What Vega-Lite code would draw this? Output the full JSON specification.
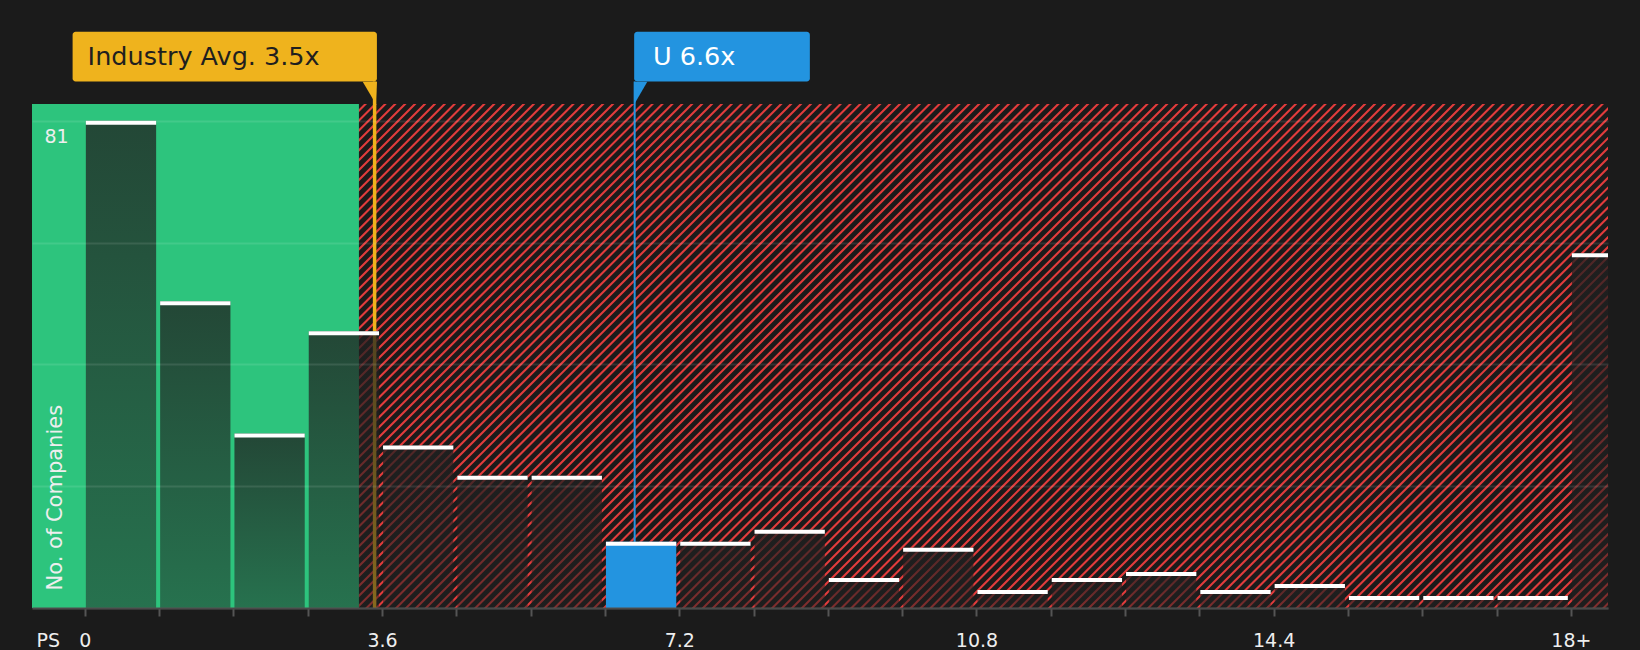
{
  "$schema": "https://vega.github.io/schema/vega-lite/v6.json",
  "width": 1576,
  "height": 504,
  "autosize": {"type": "none"},
  "padding": {"left": 32, "top": 104, "right": 32, "bottom": 42},
  "background": "#1b1b1b",
  "config": {"view": {"stroke": null}, "font": "DejaVu Sans"},
  "datasets": {
    "bins": [
      {"start": 0, "end": 0.9, "count": 81},
      {"start": 0.9, "end": 1.8, "count": 51},
      {"start": 1.8, "end": 2.7, "count": 29},
      {"start": 2.7, "end": 3.6, "count": 46},
      {"start": 3.6, "end": 4.5, "count": 27},
      {"start": 4.5, "end": 5.4, "count": 22},
      {"start": 5.4, "end": 6.3, "count": 22},
      {"start": 6.3, "end": 7.2, "count": 11},
      {"start": 7.2, "end": 8.1, "count": 11},
      {"start": 8.1, "end": 9, "count": 13},
      {"start": 9, "end": 9.9, "count": 5},
      {"start": 9.9, "end": 10.8, "count": 10},
      {"start": 10.8, "end": 11.7, "count": 3},
      {"start": 11.7, "end": 12.6, "count": 5},
      {"start": 12.6, "end": 13.5, "count": 6},
      {"start": 13.5, "end": 14.4, "count": 3},
      {"start": 14.4, "end": 15.3, "count": 4},
      {"start": 15.3, "end": 16.2, "count": 2},
      {"start": 16.2, "end": 17.1, "count": 2},
      {"start": 17.1, "end": 18, "count": 2},
      {"start": 18, "end": 18.9, "count": 59}
    ],
    "annotations": [
      {"label": "Industry Avg. 3.5x", "value": 3.51},
      {"label": "U 6.6x", "value": 6.66}
    ]
  },
  "layer": [
    {
      "data": {"values": [{}]},
      "mark": {"type": "rule", "clip": true, "stroke": "#e23c3c", "strokeWidth": 1800, "strokeDash": [2.1, 4.9], "strokeCap": "butt"},
      "encoding": {
        "x": {
          "datum": 1.197, "type": "quantitative",
          "scale": {"domain": [-0.64, 18.45], "nice": false, "zero": false},
          "axis": {
            "values": [0, 0.9, 1.8, 2.7, 3.6, 4.5, 5.4, 6.3, 7.2, 8.1, 9, 9.9, 10.8, 11.7, 12.6, 13.5, 14.4, 15.3, 16.2, 17.1, 18],
            "labelExpr": "datum.value == 18 ? '18+' : ((datum.value == 0 || datum.value == 3.6 || datum.value == 7.2 || datum.value == 10.8 || datum.value == 14.4) ? '' + datum.value : '')",
            "title": "PS", "titleX": 4, "titleY": 23.2, "titleAlign": "left", "titleBaseline": "top", "titleAnchor": "start",
            "titleFontSize": 19, "titleFontWeight": "normal", "titleColor": "#eeeeee",
            "labelFontSize": 19, "labelColor": "#eeeeee", "labelPadding": 15.3, "labelOverlap": false, "labelFlush": false,
            "tickSize": 8, "tickColor": "#555555", "tickWidth": 2,
            "domainColor": "#4a4a4a", "domainWidth": 2, "grid": false, "zindex": 1
          }
        },
        "x2": {"datum": 16.615},
        "y": {
          "datum": 147.64, "type": "quantitative",
          "scale": {"domain": [0, 83.8], "nice": false, "zero": false},
          "axis": {
            "values": [0, 20.25, 40.5, 60.75, 81],
            "labelExpr": "datum.value == 81 ? '81' : ''",
            "grid": true, "gridColor": "#ffffff", "gridOpacity": 0.1, "gridWidth": 2,
            "domain": false, "ticks": false, "tickSize": 0,
            "labelAlign": "left", "labelBaseline": "top", "labelPadding": -12, "labelOffset": 6.3,
            "labelFontSize": 19, "labelColor": "#eeeeee",
            "title": "No. of Companies", "titleX": 23, "titleY": 486, "titleAngle": 270, "titleAlign": "left", "titleBaseline": "middle",
            "titleFontSize": 21, "titleFontWeight": "normal", "titleColor": "#eeeeee", "zindex": 1
          }
        },
        "y2": {"datum": -63.84}
      }
    },
    {
      "data": {"values": [{}]},
      "mark": {"type": "rect", "fill": "#2dc47d"},
      "encoding": {
        "x": {"datum": -0.64, "type": "quantitative"},
        "x2": {"datum": 3.32},
        "y": {"datum": 0, "type": "quantitative"},
        "y2": {"datum": 83.8}
      }
    },
    {
      "data": {"name": "annotations"},
      "transform": [{"filter": "datum.label == 'Industry Avg. 3.5x'"}],
      "mark": {"type": "rule", "stroke": "#efb31d", "strokeWidth": 3.5},
      "encoding": {
        "x": {"field": "value", "type": "quantitative", "title": "PS"},
        "y": {"datum": 0, "type": "quantitative"},
        "y2": {"datum": 87.53}
      }
    },
    {
      "data": {"name": "annotations"},
      "transform": [{"filter": "datum.label == 'U 6.6x'"}],
      "mark": {"type": "rule", "stroke": "#2394e0", "strokeWidth": 2},
      "encoding": {
        "x": {"field": "value", "type": "quantitative", "title": "PS"},
        "y": {"datum": 0, "type": "quantitative"},
        "y2": {"datum": 87.53}
      }
    },
    {
      "data": {"name": "bins"},
      "mark": {
        "type": "rect", "clip": true, "xOffset": 1, "x2Offset": -3,
        "fill": {"gradient": "linear", "x1": 0, "y1": 0, "x2": 0, "y2": 1,
          "stops": [{"offset": 0, "color": "rgba(32,32,32,0.76)"}, {"offset": 1, "color": "rgba(32,32,32,0.5)"}]}
      },
      "encoding": {
        "x": {"field": "start", "type": "quantitative", "title": "PS"},
        "x2": {"field": "end"},
        "y": {"field": "count", "type": "quantitative", "title": "No. of Companies"},
        "y2": {"datum": 0}
      }
    },
    {
      "data": {"name": "bins"},
      "transform": [{"filter": "datum.start <= 6.66 && datum.end > 6.66"}],
      "mark": {"type": "rect", "clip": true, "xOffset": 1, "x2Offset": -3, "fill": "#2394e0"},
      "encoding": {
        "x": {"field": "start", "type": "quantitative", "title": "PS"},
        "x2": {"field": "end"},
        "y": {"field": "count", "type": "quantitative", "title": "No. of Companies"},
        "y2": {"datum": 0}
      }
    },
    {
      "data": {"name": "bins"},
      "mark": {"type": "rule", "clip": true, "stroke": "#ffffff", "strokeWidth": 4, "yOffset": 2, "xOffset": 1, "x2Offset": -3},
      "encoding": {
        "x": {"field": "start", "type": "quantitative", "title": "PS"},
        "x2": {"field": "end"},
        "y": {"field": "count", "type": "quantitative", "title": "No. of Companies"}
      }
    },
    {
      "data": {"name": "annotations"},
      "transform": [{"filter": "datum.label == 'Industry Avg. 3.5x'"}],
      "mark": {"type": "rect", "fill": "#efb31d", "cornerRadius": 3, "xOffset": -302, "x2Offset": 2.3},
      "encoding": {
        "x": {"field": "value", "type": "quantitative", "title": "PS"},
        "x2": {"field": "value"},
        "y": {"datum": 95.8, "type": "quantitative"},
        "y2": {"datum": 87.53}
      }
    },
    {
      "data": {"name": "annotations"},
      "transform": [{"filter": "datum.label == 'Industry Avg. 3.5x'"}],
      "mark": {"type": "point", "filled": true, "fill": "#efb31d", "opacity": 1, "strokeWidth": 0, "size": 484, "shape": "M-1.08,-1L0.22,-1L0.1,1Z"},
      "encoding": {
        "x": {"field": "value", "type": "quantitative", "title": "PS"},
        "y": {"datum": 85.65, "type": "quantitative"}
      }
    },
    {
      "data": {"name": "annotations"},
      "transform": [{"filter": "datum.label == 'Industry Avg. 3.5x'"}],
      "mark": {"type": "text", "align": "left", "baseline": "middle", "dx": -287, "fontSize": 25.5, "fill": "#1f1f1f"},
      "encoding": {
        "x": {"field": "value", "type": "quantitative", "title": "PS"},
        "y": {"datum": 91.6, "type": "quantitative"},
        "text": {"field": "label"}
      }
    },
    {
      "data": {"name": "annotations"},
      "transform": [{"filter": "datum.label == 'U 6.6x'"}],
      "mark": {"type": "rect", "fill": "#2394e0", "cornerRadius": 3, "xOffset": -0.5, "x2Offset": 175.2},
      "encoding": {
        "x": {"field": "value", "type": "quantitative", "title": "PS"},
        "x2": {"field": "value"},
        "y": {"datum": 95.8, "type": "quantitative"},
        "y2": {"datum": 87.53}
      }
    },
    {
      "data": {"name": "annotations"},
      "transform": [{"filter": "datum.label == 'U 6.6x'"}],
      "mark": {"type": "point", "filled": true, "fill": "#2394e0", "opacity": 1, "strokeWidth": 0, "size": 484, "shape": "M-0.05,-1L1.15,-1L-0.05,1.05Z"},
      "encoding": {
        "x": {"field": "value", "type": "quantitative", "title": "PS"},
        "y": {"datum": 85.65, "type": "quantitative"}
      }
    },
    {
      "data": {"name": "annotations"},
      "transform": [{"filter": "datum.label == 'U 6.6x'"}],
      "mark": {"type": "text", "align": "left", "baseline": "middle", "dx": 18.3, "fontSize": 25.5, "fill": "#ffffff"},
      "encoding": {
        "x": {"field": "value", "type": "quantitative", "title": "PS"},
        "y": {"datum": 91.6, "type": "quantitative"},
        "text": {"field": "label"}
      }
    }
  ]
}
